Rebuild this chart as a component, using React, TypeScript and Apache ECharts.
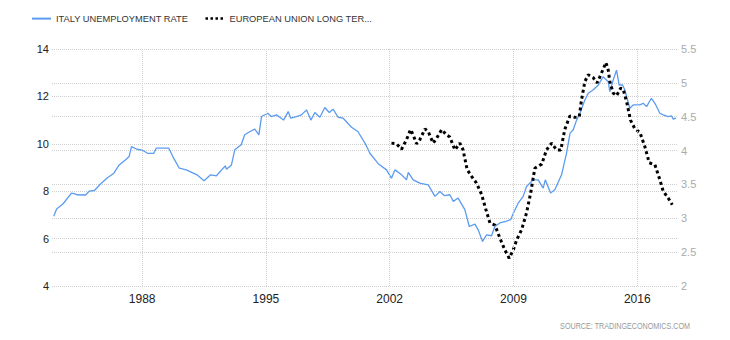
import React, { useEffect, useRef } from "react";
import * as echarts from "echarts";

const italyYears = [
  1983.0, 1983.16, 1983.53, 1984.0, 1984.2, 1984.3, 1984.8, 1985.0, 1985.3, 1985.6,
  1986.0, 1986.4, 1986.7, 1987.1, 1987.26, 1987.4, 1987.7, 1988.05, 1988.3, 1988.66,
  1988.8, 1989.5, 1989.75, 1990.1, 1990.5, 1991.1, 1991.5, 1991.87, 1992.2, 1992.7,
  1992.77, 1993.05, 1993.24, 1993.6, 1993.8, 1994.1, 1994.37, 1994.6, 1994.75, 1995.1,
  1995.3, 1995.6, 1996.0, 1996.26, 1996.4, 1996.73, 1997.0, 1997.3, 1997.54, 1997.77,
  1998.05, 1998.33, 1998.58, 1998.8, 1999.08, 1999.37, 1999.84, 2000.2, 2000.6, 2000.88,
  2001.35, 2001.82, 2002.1, 2002.3, 2002.67, 2002.95, 2003.05, 2003.33, 2003.7, 2004.18,
  2004.56, 2004.84, 2005.1, 2005.4, 2005.6, 2005.87, 2006.25, 2006.5, 2006.82, 2007.0,
  2007.25, 2007.48, 2007.76, 2007.95, 2008.23, 2008.57, 2008.84, 2009.0, 2009.27, 2009.55,
  2009.74, 2010.12, 2010.4, 2010.68, 2010.8, 2011.1, 2011.34, 2011.72, 2012.0, 2012.2,
  2012.38, 2012.57, 2012.76, 2013.04, 2013.23, 2013.5, 2013.8, 2014.07, 2014.36, 2014.45,
  2014.64, 2014.83, 2014.98, 2015.17, 2015.3, 2015.58, 2015.77, 2016.15, 2016.34, 2016.53,
  2016.8, 2017.0, 2017.28, 2017.47, 2017.75, 2017.94, 2018.04, 2018.19,
];
const italyValues = [
  6.94, 7.25, 7.47, 7.92, 7.89, 7.85, 7.84, 8.0, 8.03, 8.27,
  8.55, 8.76, 9.11, 9.35, 9.46, 9.88, 9.77, 9.72, 9.6, 9.6,
  9.82, 9.82, 9.44, 8.97, 8.9, 8.69, 8.44, 8.69, 8.65, 9.07,
  8.93, 9.11, 9.75, 9.96, 10.38, 10.52, 10.62, 10.38, 11.15, 11.29,
  11.15, 11.22, 11.0, 11.36, 11.08, 11.15, 11.22, 11.43, 11.0, 11.32,
  11.12, 11.53, 11.32, 11.46, 11.12, 11.08, 10.7, 10.52, 10.03, 9.6,
  9.16, 8.9, 8.55, 8.9, 8.69, 8.48, 8.79, 8.48, 8.34, 8.27,
  7.78, 7.99, 7.81, 7.85, 7.57, 7.71, 7.22, 6.51, 6.61, 6.38,
  5.88, 6.16, 6.12, 6.51, 6.66, 6.73, 6.8, 7.08, 7.5, 7.78,
  8.2, 8.48, 8.48, 8.13, 8.48, 7.92, 8.06, 8.69, 9.6, 10.45,
  10.59, 11.0, 11.29, 11.85, 12.13, 12.27, 12.48, 12.83, 12.62, 12.2,
  12.69, 13.11, 12.48, 12.48, 12.27, 11.5, 11.64, 11.64, 11.71, 11.57,
  11.92, 11.71, 11.29, 11.22, 11.15, 11.18, 11.04, 11.08,
];

const euYears = [
  2002.1, 2002.39, 2002.67, 2002.95, 2003.18, 2003.33, 2003.52, 2003.7, 2004.0, 2004.18,
  2004.46, 2004.65, 2004.94, 2005.22, 2005.4, 2005.69, 2005.97, 2006.15, 2006.38, 2006.63,
  2006.91, 2007.2, 2007.44, 2007.67, 2007.95, 2008.23, 2008.5, 2008.76, 2009.0, 2009.18,
  2009.46, 2009.74, 2009.97, 2010.21, 2010.6, 2010.87, 2011.16, 2011.44, 2011.68, 2011.9,
  2012.19, 2012.47, 2012.72, 2012.85, 2013.04, 2013.23, 2013.5, 2013.73, 2013.94, 2014.23,
  2014.36, 2014.45, 2014.64, 2014.83, 2015.06, 2015.2, 2015.4, 2015.62, 2015.87, 2016.15,
  2016.43, 2016.68, 2017.0, 2017.28, 2017.47, 2017.75, 2017.98,
];
const euValues = [
  4.11, 4.1, 4.02, 4.16, 4.31, 4.23, 4.1, 4.16, 4.32, 4.28,
  4.11, 4.18, 4.31, 4.23, 4.2, 4.01, 4.11, 4.01, 3.72, 3.62,
  3.52, 3.35, 3.13, 2.93, 2.9, 2.71, 2.54, 2.41, 2.54, 2.68,
  2.83, 3.08, 3.37, 3.74, 3.8, 4.01, 4.11, 4.01, 4.01, 4.31,
  4.51, 4.49, 4.5, 4.75, 5.02, 5.12, 5.08, 5.0, 5.12, 5.3,
  5.19, 5.02, 4.85, 4.81, 4.92, 4.91, 4.72, 4.45, 4.32, 4.27,
  4.06, 3.82, 3.79, 3.57, 3.4, 3.3, 3.2,
];

const xLabelYears = [1988, 1995, 2002, 2009, 2016];
const seriesNames = ["ITALY UNEMPLOYMENT RATE", "EUROPEAN UNION LONG TER..."];
const sourceText = "SOURCE: TRADINGECONOMICS.COM";

const FONT = "'Liberation Sans', Arial, sans-serif";

export default function App() {
  const ref = useRef<HTMLDivElement>(null);
  useEffect(() => {
    document.body.style.margin = "0";
    if (!ref.current) return;
    const chart = echarts.init(ref.current, undefined, { renderer: "svg" });
    const grid = { color: "#cfcfcf", type: "dotted" as const, width: 1 };
    chart.setOption({
      animation: false,
      backgroundColor: "#ffffff",
      legend: {
        left: 31,
        top: 13,
        padding: 0,
        itemWidth: 19,
        itemHeight: 14,
        itemGap: 16,
        itemStyle: { opacity: 0 },
        data: [
          { name: seriesNames[0], lineStyle: { width: 2 } },
          { name: seriesNames[1], lineStyle: { width: 2.5 } },
        ],
        textStyle: { fontSize: 9.3, color: "#333", fontFamily: FONT },
      },
      grid: { left: 52, right: 53, top: 49, bottom: 54 },
      xAxis: {
        type: "value",
        min: 1982.9,
        max: 2018.25,
        axisLine: { show: false },
        axisTick: { show: false },
        splitLine: { show: false },
        axisLabel: {
          customValues: xLabelYears,
          formatter: (v: number) => String(Math.round(v)),
          margin: 7,
          color: "#222",
          fontSize: 12,
          fontFamily: FONT,
        },
      },
      yAxis: [
        {
          type: "value",
          min: 4,
          max: 14,
          interval: 2,
          position: "left",
          axisLine: { show: false },
          axisTick: { show: false },
          splitLine: { show: true, lineStyle: grid },
          axisLabel: { margin: 3, color: "#222", fontSize: 11, fontFamily: FONT },
        },
        {
          type: "value",
          min: 2,
          max: 5.5,
          interval: 0.5,
          position: "right",
          axisLine: { show: false },
          axisTick: { show: false },
          splitLine: { show: true, lineStyle: grid },
          axisLabel: { margin: 4, color: "#aaaaaa", fontSize: 11, fontFamily: FONT },
        },
      ],
      series: [
        {
          name: seriesNames[0],
          type: "line",
          yAxisIndex: 0,
          symbol: "none",
          color: "#5b9cf0",
          lineStyle: { color: "#5b9cf0", width: 1.3 },
          data: italyYears.map((y, i) => [y, italyValues[i]]),
          markLine: {
            silent: true,
            symbol: ["none", "none"],
            label: { show: false },
            lineStyle: grid,
            emphasis: { disabled: true },
            data: xLabelYears.map((y) => ({ xAxis: y })),
          },
          z: 3,
        },
        {
          name: seriesNames[1],
          type: "line",
          yAxisIndex: 1,
          symbol: "none",
          color: "#000000",
          lineStyle: { color: "#000000", width: 3, type: "dotted" },
          data: euYears.map((y, i) => [y, euValues[i]]),
          z: 4,
        },
      ],
      graphic: [
        {
          type: "text",
          x: 690,
          y: 326,
          scaleX: 0.8,
          style: {
            text: sourceText,
            fill: "#999",
            fontSize: 9,
            fontFamily: FONT,
            align: "right",
            verticalAlign: "middle",
          },
        },
      ],
    });
    return () => chart.dispose();
  }, []);
  return <div ref={ref} style={{ width: 730, height: 340 }} />;
}
